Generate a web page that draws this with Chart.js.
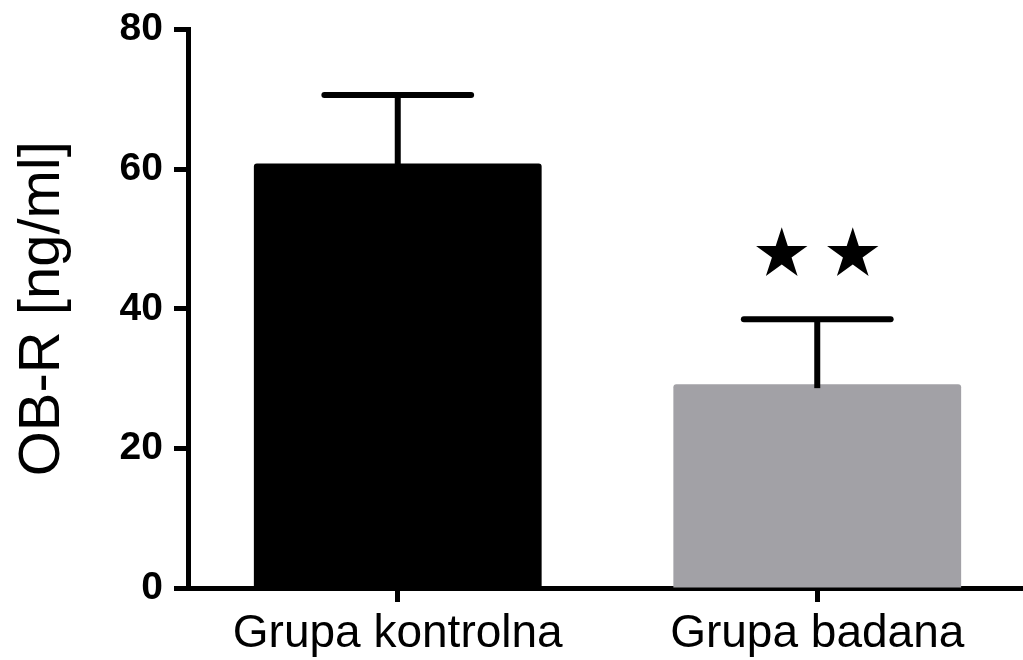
<!DOCTYPE html>
<html>
  <head>
    <title>OB-R</title>
    <script src="https://cdn.jsdelivr.net/npm/chart.js"></script>
    <style>
      body {
        margin: 0;
        padding: 0;
        background: #fff;
        overflow: hidden;
      }
      #wrap {
        width: 1030px;
        height: 660px;
      }
    </style>
  </head>
  <body>
    <div id="wrap">
      <canvas id="chart" width="1030" height="660"></canvas>
    </div>
    <script>
      // --- Data ---
      const categories = ["Grupa kontrolna", "Grupa badana"];
      const means = [60.8, 29.2];
      const errors = [9.8, 9.3];
      const barColors = ["#000000", "#a2a1a6"];
      const stars = [0, 2]; // significance stars above each bar
      const yTicks = [0, 20, 40, 60, 80];

      const FONT = "'Liberation Sans', Arial, sans-serif";

      // --- Error bars + significance stars ---
      const errorBarPlugin = {
        id: "errorBars",
        afterDatasetsDraw(chart) {
          const ctx = chart.ctx;
          const meta = chart.getDatasetMeta(0);
          const y = chart.scales.y;
          ctx.save();
          ctx.strokeStyle = "#000";
          ctx.fillStyle = "#000";
          ctx.lineWidth = 6;
          meta.data.forEach((bar, i) => {
            const x = bar.x;
            const yTop = y.getPixelForValue(means[i] + errors[i]);
            const yBar = y.getPixelForValue(means[i]);
            const half = bar.width * 0.255;
            ctx.lineCap = "butt";
            ctx.beginPath();
            ctx.moveTo(x, yBar + 4);
            ctx.lineTo(x, yTop);
            ctx.stroke();
            ctx.lineCap = "round";
            ctx.beginPath();
            ctx.moveTo(x - half, yTop);
            ctx.lineTo(x + half, yTop);
            ctx.stroke();

            // stars
            const n = stars[i];
            const R = 27;
            const gap = 71;
            for (let k = 0; k < n; k++) {
              const cx = x + (k - (n - 1) / 2) * gap;
              const cy = yTop - 65;
              ctx.beginPath();
              for (let p = 0; p < 10; p++) {
                const r = p % 2 === 0 ? R : R * 0.382;
                const a = -Math.PI / 2 + p * Math.PI / 5;
                const px = cx + r * Math.cos(a);
                const py = cy + r * Math.sin(a);
                if (p === 0) ctx.moveTo(px, py); else ctx.lineTo(px, py);
              }
              ctx.closePath();
              ctx.fill();
            }
          });
          ctx.restore();
        }
      };

      const ctx = document.getElementById("chart").getContext("2d");
      new Chart(ctx, {
        type: "bar",
        data: {
          labels: categories,
          datasets: [{
            data: means,
            backgroundColor: barColors,
            borderWidth: 0,
            borderRadius: 3,
            borderSkipped: "bottom",
            barPercentage: 0.686,
            categoryPercentage: 1
          }]
        },
        options: {
          responsive: false,
          animation: false,
          devicePixelRatio: 1,
          layout: {
            padding: { top: 29.5, right: 3, bottom: 0, left: 0 }
          },
          plugins: {
            legend: { display: false },
            tooltip: { enabled: false }
          },
          scales: {
            x: {
              offset: true,
              border: { display: true, color: "#000", width: 5 },
              grid: {
                offset: false,
                drawOnChartArea: false,
                drawTicks: true,
                tickLength: 14,
                tickWidth: 5,
                tickColor: "#000"
              },
              ticks: {
                color: "#000",
                padding: 5,
                maxRotation: 0,
                font: { family: FONT, size: 46 }
              },
              afterFit(scale) { scale.height = 72; }
            },
            y: {
              min: 0,
              max: 80,
              afterBuildTicks(scale) {
                scale.ticks = yTicks.map(v => ({ value: v }));
              },
              border: { display: true, color: "#000", width: 5 },
              grid: {
                drawOnChartArea: false,
                drawTicks: true,
                tickLength: 14,
                tickWidth: 5,
                tickColor: "#000"
              },
              ticks: {
                color: "#000",
                padding: 11,
                font: { family: FONT, size: 39, weight: "bold" }
              },
              title: {
                display: true,
                text: "OB-R [ng/ml]",
                color: "#000",
                padding: { top: 8, bottom: 0 },
                font: { family: FONT, size: 58 }
              },
              afterFit(scale) {
                scale.width = 188;
                scale.paddingTop = 0;
                scale.paddingBottom = 0;
              }
            }
          }
        },
        plugins: [errorBarPlugin]
      });
    </script>
  </body>
</html>
